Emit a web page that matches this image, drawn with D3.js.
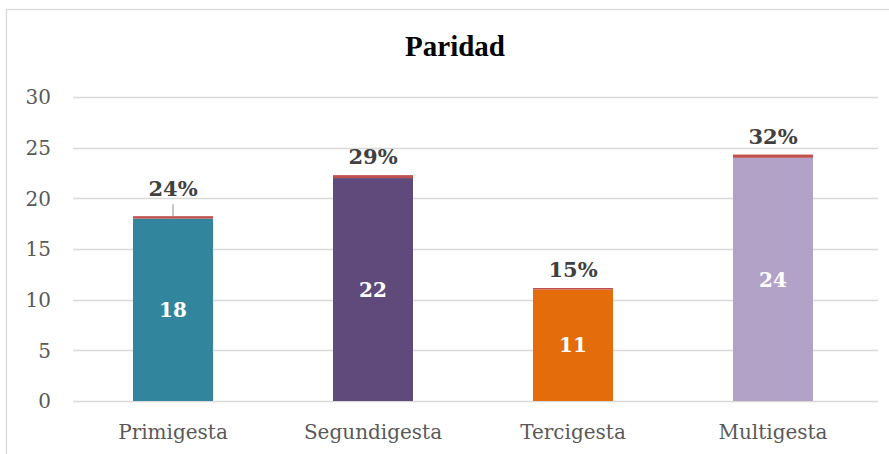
<!DOCTYPE html>
<html>
<head>
<meta charset="utf-8">
<script src="https://cdn.jsdelivr.net/npm/d3@7"></script>
<style>
  body { margin: 0; background: #fff; }
  text { font-family: "DejaVu Serif", "Liberation Serif", serif; }
</style>
</head>
<body>
<div id="main"></div>
<script>
// chart data
var categories = ['Primigesta', 'Segundigesta', 'Tercigesta', 'Multigesta'];
var counts = [18, 22, 11, 24];
var shares = [0.24, 0.29, 0.15, 0.32];
var barColors = ['#31859c', '#604a7b', '#e46c0a', '#b3a2c7'];
var yTicks = [0, 5, 10, 15, 20, 25, 30];

var width = 889;
var height = 454;

var svg = d3.select('#main')
  .append('svg')
  .attr('width', width)
  .attr('height', height);

// outer chart border (cut off at right and bottom)
svg.append('rect')
  .attr('x', 6.5)
  .attr('y', 9.5)
  .attr('width', width + 20)
  .attr('height', height + 20)
  .attr('fill', '#fff')
  .attr('stroke', '#d9d9d9')
  .attr('stroke-width', 1.3);

svg.append('text')
  .attr('x', 455)
  .attr('y', 56)
  .attr('text-anchor', 'middle')
  .style('font-family', '"Liberation Serif", serif')
  .attr('font-size', 29)
  .attr('font-weight', 'bold')
  .attr('fill', '#000')
  .text('Paridad');

var x = d3.scaleBand()
  .domain(categories)
  .range([73, 873])
  .paddingInner(0.6)
  .paddingOuter(0.3);

var y = d3.scaleLinear()
  .domain([0, 30])
  .range([401, 97]);

// gridlines
svg.append('g')
  .selectAll('line')
  .data(yTicks)
  .enter().append('line')
    .attr('x1', 73)
    .attr('x2', 878)
    .attr('y1', function(d) { return Math.round(y(d)) + 0.5; })
    .attr('y2', function(d) { return Math.round(y(d)) + 0.5; })
    .attr('stroke', '#d9d9d9')
    .attr('stroke-width', 1.3);

// y labels
svg.append('g')
  .selectAll('text')
  .data(yTicks)
  .enter().append('text')
    .attr('x', 51)
    .attr('y', function(d) { return y(d); })
    .attr('dy', '0.36em')
    .attr('text-anchor', 'end')
    .attr('font-size', 20)
    .attr('fill', '#595959')
    .text(function(d) { return d; });

var bars = svg.append('g')
  .selectAll('g')
  .data(categories)
  .enter().append('g');

// main count bars
bars.append('rect')
  .attr('x', function(d) { return x(d); })
  .attr('width', x.bandwidth())
  .attr('y', function(d, i) { return y(counts[i]); })
  .attr('height', function(d, i) { return y(0) - y(counts[i]); })
  .attr('fill', function(d, i) { return barColors[i]; });

// thin stacked share segment
bars.append('rect')
  .attr('x', function(d) { return x(d); })
  .attr('width', x.bandwidth())
  .attr('y', function(d, i) { return y(counts[i] + shares[i]); })
  .attr('height', function(d, i) { return y(counts[i]) - y(counts[i] + shares[i]); })
  .attr('fill', '#c0504d');

// count labels inside bars
bars.append('text')
  .attr('x', function(d) { return x(d) + x.bandwidth() / 2; })
  .attr('y', function(d, i) { return y(counts[i] / 2); })
  .attr('dy', '0.36em')
  .attr('text-anchor', 'middle')
  .attr('font-size', 20)
  .attr('font-weight', 'bold')
  .attr('fill', '#fff')
  .text(function(d, i) { return counts[i]; });

// share labels above bars (first one pushed up with a leader line)
bars.each(function(d, i) {
  var g = d3.select(this);
  var top = y(counts[i] + shares[i]);
  var cx = x(d) + x.bandwidth() / 2;
  var lift = i === 0 ? 20 : 11;
  if (i === 0) {
    g.append('line')
      .attr('x1', cx).attr('x2', cx)
      .attr('y1', top).attr('y2', top - 12)
      .attr('stroke', '#a6a6a6')
      .attr('stroke-width', 1.3);
  }
  g.append('text')
    .attr('x', cx)
    .attr('y', top - lift)
    .attr('text-anchor', 'middle')
    .attr('font-size', 21)
    .attr('font-weight', 'bold')
    .attr('fill', '#404040')
    .text(Math.round(shares[i] * 100) + '%');
});

// x labels
svg.append('g')
  .selectAll('text')
  .data(categories)
  .enter().append('text')
    .attr('x', function(d) { return x(d) + x.bandwidth() / 2; })
    .attr('y', 439)
    .attr('text-anchor', 'middle')
    .attr('font-size', 20)
    .attr('fill', '#595959')
    .text(function(d) { return d; });
</script>
</body>
</html>
